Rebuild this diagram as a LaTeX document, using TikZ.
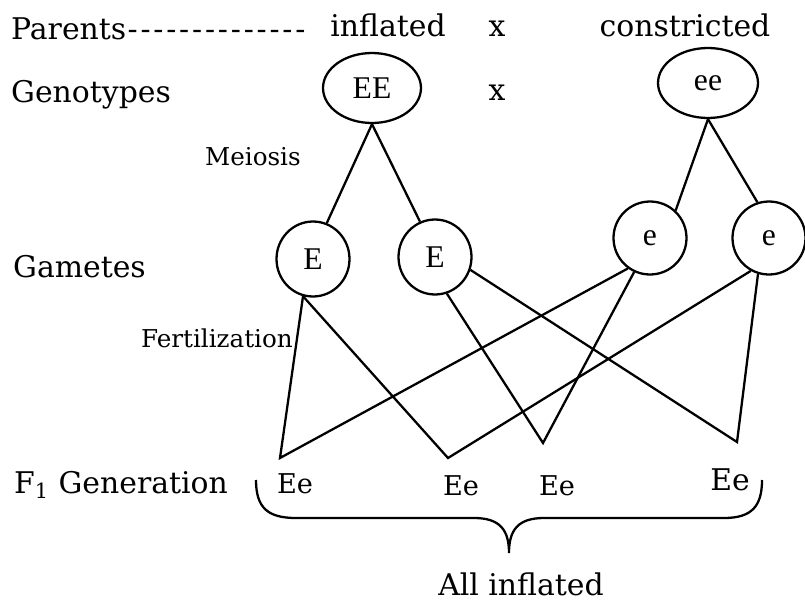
\documentclass[tikz,border=0pt]{standalone}
\usepackage{fontspec}
\setmainfont{DejaVu Serif}
\newfontfamily\circfont{Liberation Serif}
\usetikzlibrary{shapes.geometric}
\newcommand{\pdash}{\kern0.8pt-\kern0.8pt}

\begin{document}
\begin{tikzpicture}[x=0.02cm,y=-0.02cm,line width=1.3pt,
	lbl/.style={font=\fontsize{17}{20}\selectfont,inner sep=0pt},
	sml/.style={font=\fontsize{14}{17}\selectfont,inner sep=0pt},
	geno/.style={draw,ellipse,inner sep=0pt,font=\circfont\fontsize{18}{21}\selectfont},
	gam/.style={geno,minimum width=1.46cm,minimum height=1.5cm},
	off/.style={font=\fontsize{15.5}{18}\selectfont,inner sep=0pt}]
	\useasboundingbox (0,0) rectangle (805,602);
	\node[lbl,anchor=base west] (par) at (10,39) {Parents\pdash\pdash\pdash\pdash\pdash\pdash\pdash\pdash\pdash\pdash\pdash\pdash\pdash\pdash};
	\node[lbl,anchor=base] (infl) at (388,36) {inflated};
	\node[lbl,anchor=base] (x1) at (497,36) {x};
	\node[lbl,anchor=base] (con) at (685,36) {constricted};
	\node[lbl,anchor=base west] (gty) at (10,102) {Genotypes};
	\node[lbl,anchor=base] (x2) at (497,100) {x};
	\node[geno,minimum width=1.96cm,minimum height=1.4cm] (EE) at (372,88) {EE};
	\node[geno,minimum width=2cm,minimum height=1.4cm] (ee) at (708,83) {ee};
	\node[sml,anchor=base west] (mei) at (204,165) {Meiosis};
	\node[lbl,anchor=base west] (gmt) at (12,277) {Gametes};
	\node[gam] (E1) at (313,259) {E};
	\node[gam] (E2) at (435,257) {E};
	\node[gam,minimum height=1.46cm] (e1) at (650,238) {e};
	\node[gam,minimum height=1.46cm] (e2) at (769,238) {e};
	\node[sml,anchor=base west] (fert) at (140,347) {Fertilization};
	\node[lbl,anchor=base west] (fgen) at (13,493) {F\textsubscript{1} Generation};
	\node[off,anchor=base] (f1) at (295,493) {Ee};
	\node[off,anchor=base] (f2) at (461,495) {Ee};
	\node[off,anchor=base] (f3) at (557,495) {Ee};
	\node[lbl,anchor=base] (f4) at (730,490) {Ee};
	\node[lbl,anchor=base] (all) at (521,595) {All inflated};
	\coordinate (j1) at (280,458);
	\coordinate (j2) at (448,458);
	\coordinate (j3) at (543,443);
	\coordinate (j4) at (737,442);
	\draw (EE.south) -- (E1.69);
	\draw (EE.south) -- (E2.113);
	\draw (ee.south) -- (e1.47);
	\draw (ee.south) -- (e2.108);
	\draw (E1.-105) -- (j1) -- (e1.-126);
	\draw (E1.-105) -- (j2) -- (e2.-119);
	\draw (E2.-72) -- (j3) -- (e1.-115);
	\draw (E2.-20) -- (j4) -- (e2.-107);
	\draw (256,480) .. controls (256,508) and (268,518) .. (296,518) -- (474,518)
		.. controls (500,518) and (509,530) .. (509,553)
		.. controls (509,530) and (518,518) .. (544,518) -- (724,518)
		.. controls (752,518) and (762,506) .. (762,480);
\end{tikzpicture}
\end{document}
